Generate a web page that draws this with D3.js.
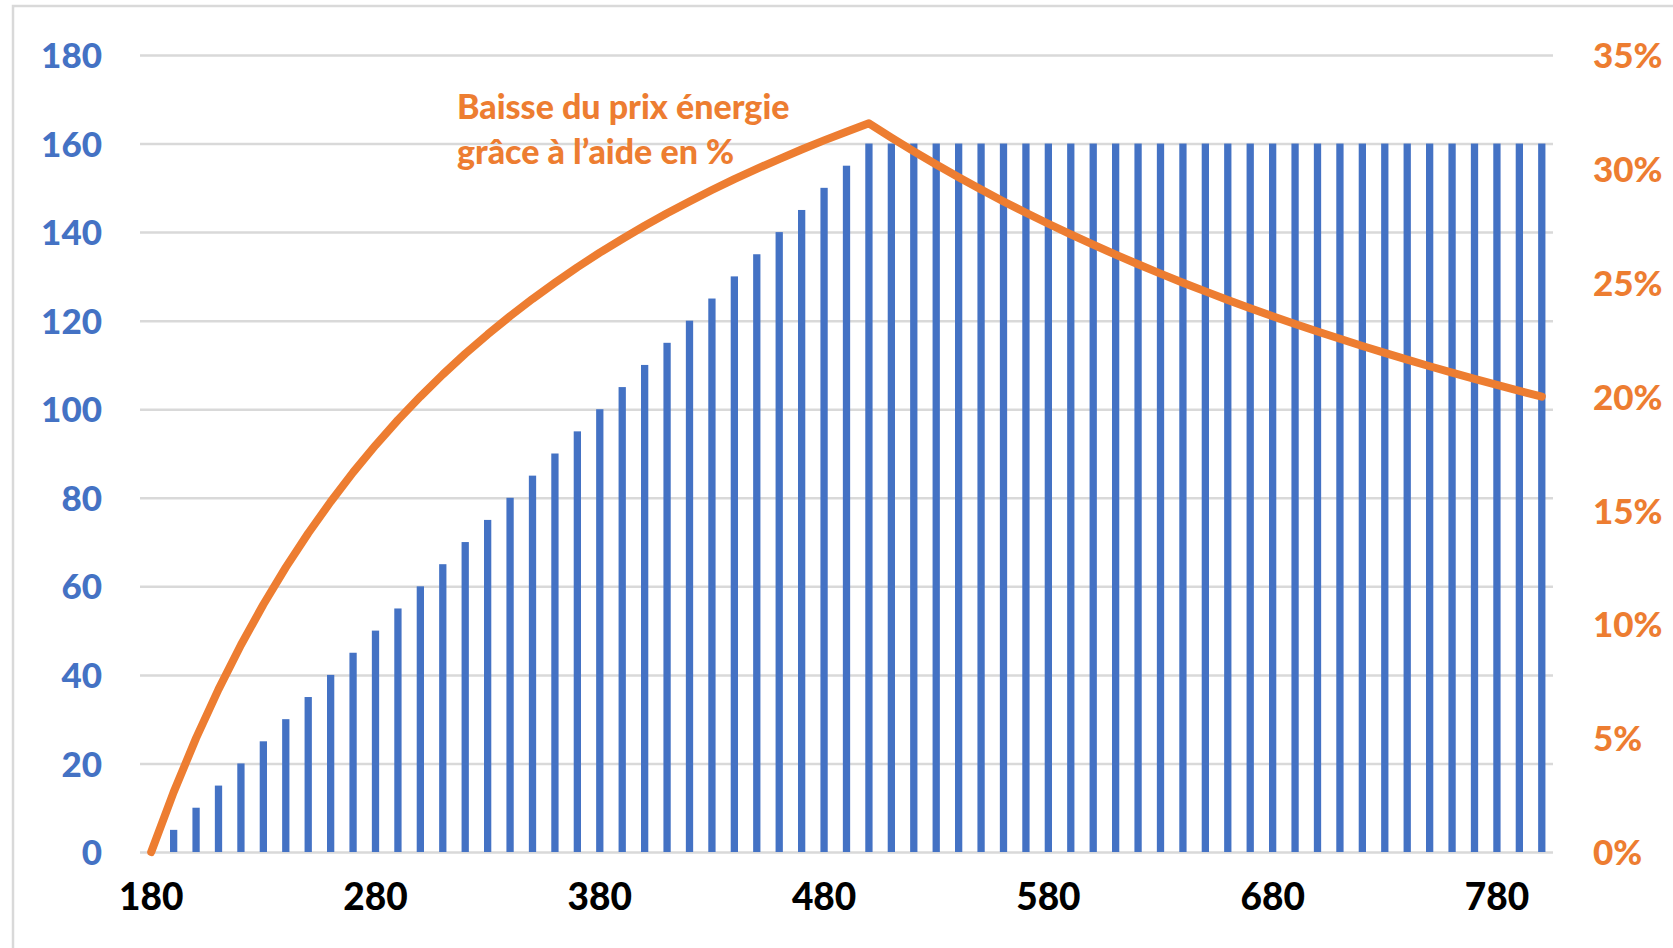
<!DOCTYPE html>
<html><head><meta charset="utf-8">
<script src="https://cdn.jsdelivr.net/npm/d3@7"></script>
<style>body{margin:0;background:#fff;}svg{display:block;}</style>
</head><body>
<svg id="c" width="1673" height="948"></svg>
<script>
const categories = [180,190,200,210,220,230,240,250,260,270,280,290,300,310,320,330,340,350,360,370,380,390,400,410,420,430,440,450,460,470,480,490,500,510,520,530,540,550,560,570,580,590,600,610,620,630,640,650,660,670,680,690,700,710,720,730,740,750,760,770,780,790,800];
const aide = [0,5,10,15,20,25,30,35,40,45,50,55,60,65,70,75,80,85,90,95,100,105,110,115,120,125,130,135,140,145,150,155,160,160,160,160,160,160,160,160,160,160,160,160,160,160,160,160,160,160,160,160,160,160,160,160,160,160,160,160,160,160,160];
const baissePct = [0,2.63,5.00,7.14,9.09,10.87,12.50,14.00,15.38,16.67,17.86,18.97,20.00,20.97,21.88,22.73,23.53,24.29,25.00,25.68,26.32,26.92,27.50,28.05,28.57,29.07,29.55,30.00,30.43,30.85,31.25,31.63,32.00,31.37,30.77,30.19,29.63,29.09,28.57,28.07,27.59,27.12,26.67,26.23,25.81,25.40,25.00,24.62,24.24,23.88,23.53,23.19,22.86,22.54,22.22,21.92,21.62,21.33,21.05,20.78,20.51,20.25,20.00];
const xTickLabels = [180,280,380,480,580,680,780];
const leftTicks = [0,20,40,60,80,100,120,140,160,180];
const rightTicks = [0,5,10,15,20,25,30,35];
const seriesLabel = ["Baisse du prix énergie", "grâce à l’aide en %"];

const svg = d3.select("#c");
const FONT = "Lato, 'Open Sans', sans-serif";
const L = 140, R = 1553, T = 55, B = 852;
const blue = "#4472C4", orange = "#ED7D31", grid = "#D9D9D9";

// border
svg.append("rect").attr("x",13).attr("y",6).attr("width",1700).attr("height",1000)
  .attr("fill","none").attr("stroke",grid).attr("stroke-width",2.5);

const x = d3.scaleBand().domain(categories).range([L,R]).paddingInner(0.675).paddingOuter(0.3375);
const y = d3.scaleLinear().domain([0,180]).range([B,T]);
const y2 = d3.scaleLinear().domain([0,35]).range([B,T]);

// gridlines + left axis
const gAxisL = svg.append("g").attr("transform",`translate(${L},0)`)
  .call(d3.axisLeft(y).tickValues(leftTicks).tickSize(-(R-L)).tickFormat(d=>d));
gAxisL.select(".domain").remove();
gAxisL.selectAll(".tick line").attr("stroke",grid).attr("stroke-width",2.5);
gAxisL.selectAll(".tick text").attr("x",-38).attr("fill",blue)
  .style("font-family",FONT).style("font-weight","900").style("font-size","35px").attr("dy","0.36em");

// right axis
const gAxisR = svg.append("g").attr("transform",`translate(${R},0)`)
  .call(d3.axisRight(y2).tickValues(rightTicks).tickSize(0).tickFormat(d=>d+"%"));
gAxisR.select(".domain").remove();
gAxisR.selectAll(".tick text").attr("x",40).attr("fill",orange)
  .style("font-family",FONT).style("font-weight","900").style("font-size","35px").attr("dy","0.36em");

// x axis
const gX = svg.append("g").attr("transform",`translate(0,${B})`)
  .call(d3.axisBottom(x).tickValues(xTickLabels).tickSize(0).tickFormat(d=>d));
gX.select(".domain").remove();
gX.selectAll(".tick text").attr("y",32).attr("fill","#000")
  .style("font-family",FONT).style("font-weight","900").style("font-size","37px").attr("dy","0.71em");

// bars
svg.append("g").selectAll("rect").data(categories).join("rect")
  .attr("x",d=>x(d)).attr("width",x.bandwidth())
  .attr("y",(d,i)=>y(aide[i])).attr("height",(d,i)=>B-y(aide[i]))
  .attr("fill",blue);

// line
const line = d3.line().x((d,i)=>x(categories[i])+x.bandwidth()/2).y(d=>y2(d));
svg.append("path").datum(baissePct).attr("d",line)
  .attr("fill","none").attr("stroke",orange).attr("stroke-width",8)
  .attr("stroke-linejoin","round").attr("stroke-linecap","round");

// annotation
const ann = svg.append("text").attr("fill",orange)
  .style("font-family",FONT).style("font-weight","900").style("font-size","34px");
ann.selectAll("tspan").data(seriesLabel).join("tspan")
  .attr("x",457).attr("y",(d,i)=>119+i*45).text(d=>d);
</script>
</body></html>
